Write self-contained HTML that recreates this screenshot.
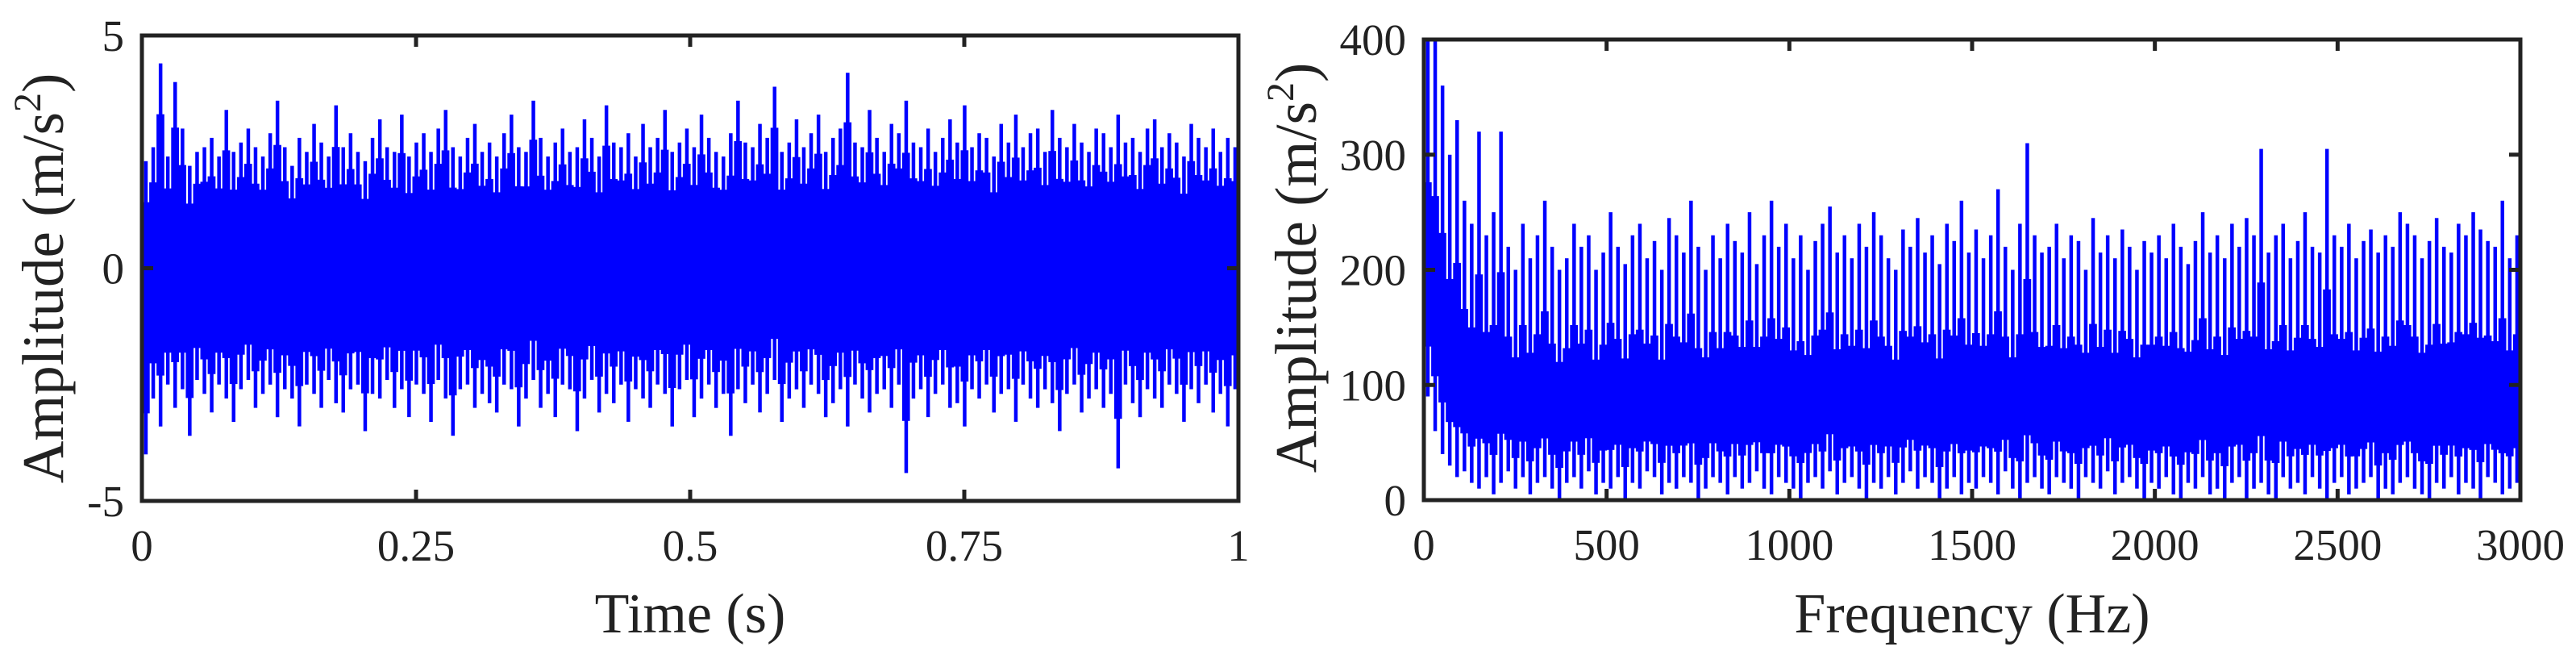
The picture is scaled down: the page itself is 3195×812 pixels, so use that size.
<!DOCTYPE html>
<html><head><meta charset="utf-8"><style>
html,body{margin:0;padding:0;background:#fff;width:3195px;height:812px;overflow:hidden}
text{font-family:"Liberation Serif",serif;fill:#222}
</style></head><body>
<svg id="fig" width="3195" height="812" xmlns="http://www.w3.org/2000/svg">
<g id="left"></g>
<g id="right"></g>
</svg>
<script>
const timeTicks=[0,0.25,0.5,0.75,1];
const timeTickLabels=["0","0.25","0.5","0.75","1"];
const ampTicks=[-5,0,5];
const ampTickLabels=["-5","0","5"];
const timeMax=[2.3,2.6,4.4,2.4,4.0,3.0,2.2,2.5,2.6,2.8,2.4,3.4,2.5,2.7,3.0,2.6,2.4,2.9,3.6,2.6,2.2,2.8,2.5,3.1,2.7,2.4,3.5,2.6,2.9,2.5,2.3,2.8,3.2,2.6,2.5,3.3,2.4,2.7,2.9,2.5,3.0,3.4,2.6,2.4,2.8,3.1,2.5,2.7,2.4,2.9,3.3,2.6,2.5,3.6,2.8,2.4,2.7,3.0,2.5,2.6,3.2,2.8,2.4,3.5,2.7,2.6,2.9,2.4,3.1,2.6,2.8,3.4,2.5,2.7,3.0,2.6,3.3,2.8,2.5,2.4,2.9,3.6,2.7,2.6,3.1,2.8,3.9,2.5,2.7,3.2,2.6,2.9,3.3,2.5,2.8,3.0,4.2,2.7,2.6,3.4,2.8,2.5,3.1,2.9,3.6,2.7,2.6,3.0,2.5,2.8,3.2,2.7,3.5,2.6,2.9,2.8,2.4,3.1,2.7,3.3,2.6,2.9,3.0,2.5,3.4,2.8,2.6,3.1,2.7,2.5,3.0,2.9,2.6,3.3,2.7,2.8,2.5,3.0,3.2,2.6,2.9,2.7,2.4,3.1,2.8,2.6,3.0,2.5,2.8,2.6];
const timeMin=[-4.0,-2.8,-3.4,-2.5,-3.0,-2.6,-3.6,-2.4,-2.7,-3.1,-2.5,-2.8,-3.3,-2.6,-2.4,-3.0,-2.7,-2.5,-3.2,-2.6,-2.8,-3.4,-2.5,-2.7,-3.0,-2.4,-2.9,-3.1,-2.6,-2.5,-3.5,-2.7,-2.8,-2.4,-3.0,-2.6,-3.2,-2.5,-2.7,-3.3,-2.4,-2.8,-3.6,-2.6,-2.5,-3.0,-2.7,-2.9,-3.1,-2.5,-2.6,-3.4,-2.8,-2.4,-3.0,-2.7,-3.2,-2.5,-2.6,-3.5,-2.8,-2.4,-3.1,-2.7,-2.9,-2.5,-3.3,-2.6,-2.8,-3.0,-2.5,-2.7,-3.4,-2.6,-2.4,-3.2,-2.8,-2.5,-3.0,-2.7,-3.6,-2.6,-2.9,-2.5,-3.1,-2.7,-2.4,-3.3,-2.8,-2.6,-3.0,-2.5,-2.7,-3.2,-2.9,-2.6,-3.4,-2.5,-2.8,-3.1,-2.7,-2.6,-3.0,-2.5,-4.4,-2.8,-2.6,-3.2,-2.7,-2.5,-3.0,-2.9,-3.4,-2.6,-2.8,-2.5,-3.1,-2.7,-2.6,-3.3,-2.5,-2.8,-3.0,-2.6,-2.9,-3.5,-2.7,-2.5,-3.1,-2.8,-2.6,-3.0,-2.7,-4.3,-2.5,-2.9,-3.2,-2.6,-2.8,-3.0,-2.5,-2.7,-3.3,-2.6,-2.9,-2.5,-3.1,-2.7,-3.4,-2.6];
const freqTicks=[0,500,1000,1500,2000,2500,3000];
const freqTickLabels=["0","500","1000","1500","2000","2500","3000"];
const specTicks=[0,100,200,300,400];
const specTickLabels=["0","100","200","300","400"];
const specMax=[400,400,360,300,330,260,240,320,230,250,320,220,200,240,210,230,260,220,200,210,240,220,230,200,215,250,220,205,230,240,210,225,200,245,230,215,260,220,200,230,210,240,225,215,250,205,230,260,220,240,210,230,200,225,240,255,215,230,210,240,220,250,230,210,200,235,220,245,215,230,205,240,225,260,215,235,210,230,270,220,200,240,310,230,215,220,240,210,230,225,200,245,215,230,210,235,220,200,225,215,230,210,240,220,205,225,250,215,230,210,240,220,245,230,305,215,230,240,210,225,250,220,215,305,230,220,240,210,225,235,215,230,220,250,240,230,210,225,245,220,215,240,230,250,235,225,220,260,210,230];
const specMin=[90,60,40,30,20,25,15,10,20,5,15,25,10,20,5,15,20,10,0,15,20,10,25,5,15,10,20,0,15,10,25,20,5,15,10,20,15,0,10,20,15,5,20,10,15,25,10,5,20,15,10,0,15,20,10,25,5,15,20,10,0,15,10,20,5,15,25,10,20,15,0,10,20,5,15,10,20,15,5,25,10,0,15,20,10,5,20,15,10,0,20,15,10,25,5,15,20,10,0,15,10,20,5,0,15,10,20,5,10,0,15,20,0,10,15,5,0,20,10,15,5,20,10,0,15,20,5,10,15,20,0,10,5,15,20,10,5,0,15,10,20,5,15,10,0,20,15,5,10,15];

const NS='http://www.w3.org/2000/svg';
function mk(tag,attrs,parent){const e=document.createElementNS(NS,tag);for(const k in attrs)e.setAttribute(k,attrs[k]);parent.appendChild(e);return e;}

function chart(g,box,xDom,yDom,xT,xL,yT,yL,maxA,minA,xTitle,prefix,lo,hi){
  const sx=v=>box.l+(v-xDom[0])/(xDom[1]-xDom[0])*(box.r-box.l);
  const sy=v=>box.b-(v-yDom[0])/(yDom[1]-yDom[0])*(box.b-box.t);
  const n=maxA.length;
  const bars=mk('g',{fill:'#0000ff'},g);
  
  
  for(let i=0;i<n;i++){
    const x0=sx(xDom[0]+(xDom[1]-xDom[0])*i/n), x1=sx(xDom[0]+(xDom[1]-xDom[0])*(i+1)/n);
    const w=(x1-x0);
    const r=mk('rect',{x:(x0+w*0.3).toFixed(1),y:sy(maxA[i]).toFixed(1),width:(w*0.5).toFixed(1),height:(sy(minA[i])-sy(maxA[i])).toFixed(1)},bars);
    
    
    const rng=maxA[i]-minA[i], top=minA[i]+rng*hi, bot=minA[i]+rng*lo;
    const cr=mk('rect',{x:x0.toFixed(1),y:sy(top).toFixed(1),width:(w+0.6).toFixed(1),height:(sy(bot)-sy(top)).toFixed(1)},bars);
    
    
  }
  const fr=mk('rect',{x:box.l,y:box.t,width:box.r-box.l,height:box.b-box.t,fill:'none',stroke:'#222','stroke-width':5},g);
  
  
  xT.forEach((v,i)=>{
    const x=sx(v);
    mk('line',{x1:x,y1:box.b,x2:x,y2:box.b-14,stroke:'#222','stroke-width':5},g);
    mk('line',{x1:x,y1:box.t,x2:x,y2:box.t+14,stroke:'#222','stroke-width':5},g);
    const t=mk('text',{x:x,y:box.b+74,'font-size':55,'text-anchor':'middle'},g);t.textContent=xL[i];
    
    
  });
  yT.forEach((v,i)=>{
    const y=sy(v);
    mk('line',{x1:box.l,y1:y,x2:box.l+14,y2:y,stroke:'#222','stroke-width':5},g);
    mk('line',{x1:box.r,y1:y,x2:box.r-14,y2:y,stroke:'#222','stroke-width':5},g);
    const t=mk('text',{x:box.l-22,y:y+19,'font-size':55,'text-anchor':'end'},g);t.textContent=yL[i];
    
    
  });
  const xt=mk('text',{x:(box.l+box.r)/2,y:784,'font-size':70,'text-anchor':'middle'},g);xt.textContent=xTitle;
  
  
}
const L=document.getElementById('left'),R=document.getElementById('right');
chart(L,{l:176,r:1536,t:44,b:621},[0,1],[-5,5],timeTicks,timeTickLabels,ampTicks,ampTickLabels,timeMax,timeMin,'Time (s)','time',0.14,0.86);
chart(R,{l:1766,r:3126,t:49,b:620},[0,3000],[0,400],freqTicks,freqTickLabels,specTicks,specTickLabels,specMax,specMin,'Frequency (Hz)','spectrum',0.14,0.6);
function ytitle(g,x,y,name){
  const t=mk('text',{x:0,y:0,'font-size':73,'text-anchor':'middle',transform:`translate(${x},${y}) rotate(-90)`},g);
  t.innerHTML='Amplitude (m/s<tspan dy="-28" font-size="48">2</tspan><tspan dy="28">)</tspan>';
  
  
}
ytitle(L,78,345,'time-y-axis-title');
ytitle(R,1632,332,'spectrum-y-axis-title');
</script>
</body></html>
